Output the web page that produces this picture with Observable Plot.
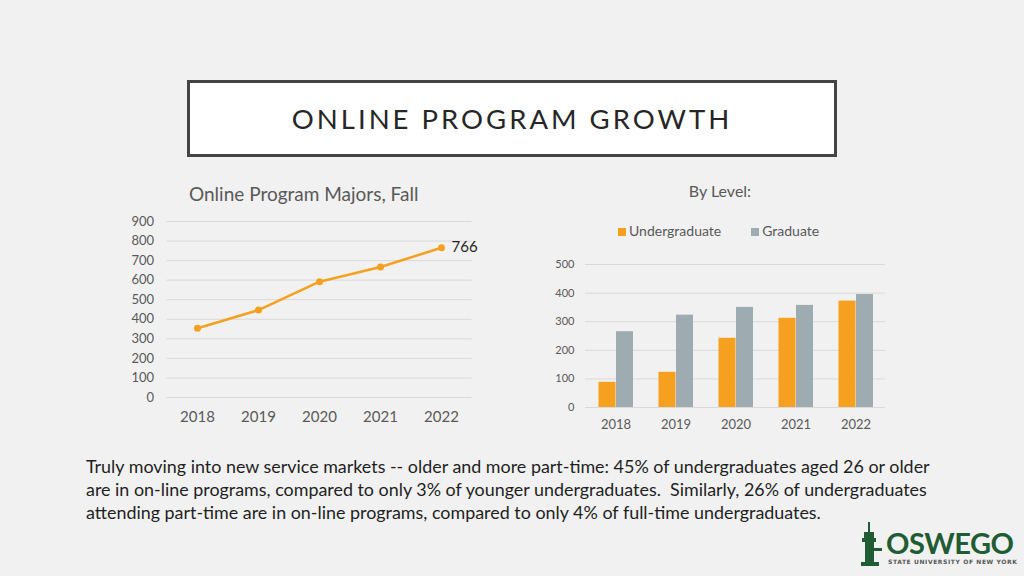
<!DOCTYPE html>
<html>
<head>
<meta charset="utf-8">
<script src="https://cdn.jsdelivr.net/npm/d3@7"></script>
<script src="https://cdn.jsdelivr.net/npm/@observablehq/plot@0.6"></script>
<style>
  html, body { margin: 0; padding: 0; }
  body { width: 1024px; height: 576px; background: #f1f1f1; position: relative; overflow: hidden; font-family: Lato, "Noto Sans", sans-serif; }
  .abs { position: absolute; }
  #titlebox { left: 187px; top: 80px; width: 644px; height: 71px; background: #fff; border: 3px solid #444; }
  #title { width: 100%; text-align: center; line-height: 71px; font-size: 27.5px; letter-spacing: 3px; color: #262626; }
  #lineTitle { left: 189px; top: 182px; font-size: 19px; color: #595959; }
  #barTitle { left: 620px; top: 181px; width: 200px; text-align: center; font-size: 16px; color: #595959; }
  #legend { left: 618px; top: 222px; font-size: 14px; color: #595959; white-space: nowrap; }
  #legend span.sw { display: inline-block; width: 8px; height: 8px; margin-right: 3px; vertical-align: 0px; }
  #caption { left: 86px; top: 455px; font-size: 17.9px; line-height: 23px; color: #1f1f1f; white-space: nowrap; }
  #logo { left: 858px; top: 518px; width: 160px; height: 56px; }
</style>
</head>
<body>
<div id="titlebox" class="abs"><div id="title">ONLINE PROGRAM GROWTH</div></div>
<div id="lineTitle" class="abs">Online Program Majors, Fall</div>
<div id="lineChart" class="abs" style="left:100px; top:205px;"></div>
<div id="barTitle" class="abs">By Level:</div>
<div id="legend" class="abs"></div>
<div id="barChart" class="abs" style="left:540px; top:250px;"></div>
<div id="caption" class="abs"></div>
<svg id="logo" class="abs" viewBox="0 0 160 56">
  <g fill="#1f5c34">
    <rect x="10" y="4" width="2" height="10"/>
    <rect x="6" y="14" width="10" height="6"/>
    <rect x="4" y="20" width="14" height="4"/>
    <rect x="7" y="24" width="9" height="22"/>
    <rect x="3" y="44" width="18" height="4"/>
    <rect x="16" y="30" width="8" height="3"/>
  </g>
  <text x="28" y="36" font-family="Lato, sans-serif" font-size="29" font-weight="700" fill="#1f5c34" letter-spacing="-0.5">OSWEGO</text>
  <text x="30" y="46" font-family="DejaVu Sans, sans-serif" font-size="6" font-weight="700" fill="#555" letter-spacing="0.6">STATE UNIVERSITY OF NEW YORK</text>
</svg>
<script>
const years = ["2018", "2019", "2020", "2021", "2022"];
const majors = [354, 447, 592, 667, 766];
const undergrad = [88, 123, 242, 312, 372];
const graduate = [265, 323, 350, 357, 395];
const lineTicks = [0, 100, 200, 300, 400, 500, 600, 700, 800, 900];
const barTicks = [0, 100, 200, 300, 400, 500];
const levels = ["Undergraduate", "Graduate"];
const colors = ["#f5a01f", "#9eabb1"];
const captionLines = [
  "Truly moving into new service markets -- older and more part-time: 45% of undergraduates aged 26 or older",
  "are in on-line programs, compared to only 3% of younger undergraduates.  Similarly, 26% of undergraduates",
  "attending part-time are in on-line programs, compared to only 4% of full-time undergraduates."
];

const lineData = years.map((y, i) => ({year: y, value: majors[i]}));
const barData = years.flatMap((y, i) => [
  {year: y, level: levels[0], value: undergrad[i]},
  {year: y, level: levels[1], value: graduate[i]}
]);

const line = Plot.plot({
  width: 380, height: 230,
  marginLeft: 66.5, marginRight: 8.5, marginTop: 16, marginBottom: 38,
  style: {background: "transparent", fontFamily: "Lato, sans-serif", color: "#595959"},
  x: {type: "point", domain: years, padding: 0.5, label: null},
  y: {domain: [0, 900], label: null},
  marks: [
    Plot.gridY(lineTicks, {stroke: "#d9d9d9", strokeOpacity: 1}),
    Plot.axisY(lineTicks, {tickSize: 0, tickPadding: 13, fontSize: 13, label: null}),
    Plot.axisX({tickSize: 0, tickPadding: 14, fontSize: 15, label: null}),
    Plot.line(lineData, {x: "year", y: "value", stroke: colors[0], strokeWidth: 2.5}),
    Plot.dot(lineData, {x: "year", y: "value", fill: colors[0], r: 3.5}),
    Plot.text(lineData.slice(-1), {x: "year", y: "value", text: d => String(d.value), textAnchor: "start", dx: 10, dy: -1, fontSize: 15, fill: "#262626"})
  ]
});
document.getElementById("lineChart").appendChild(line);

const bars = Plot.plot({
  width: 360, height: 190,
  marginLeft: 45, marginRight: 15, marginTop: 14, marginBottom: 33,
  style: {background: "transparent", fontFamily: "Lato, sans-serif", color: "#595959"},
  x: {type: "band", domain: years, paddingInner: 0.717, paddingOuter: 0.3585, label: null},
  y: {domain: [0, 500], label: null},
  color: {domain: levels, range: colors},
  marks: [
    Plot.gridY(barTicks, {stroke: "#d9d9d9", strokeOpacity: 1}),
    Plot.axisY(barTicks, {tickSize: 0, tickPadding: 11, fontSize: 11, label: null}),
    Plot.axisX({tickSize: 0, tickPadding: 12, fontSize: 13, label: null}),
    Plot.barY(barData.filter(d => d.level === levels[0]), {x: "year", y: "value", fill: "level", dx: -8.5}),
    Plot.barY(barData.filter(d => d.level === levels[1]), {x: "year", y: "value", fill: "level", dx: 9})
  ]
});
document.getElementById("barChart").appendChild(bars);

document.getElementById("legend").innerHTML = levels.map((l, i) =>
  `<span class="sw" style="background:${colors[i]}"></span><span style="margin-right:${i === 0 ? 30 : 0}px">${l}</span>`).join("");

document.getElementById("caption").innerHTML = captionLines.map(s => s.replace(/  /g, " &nbsp;")).join("<br>");
</script>
</body>
</html>
